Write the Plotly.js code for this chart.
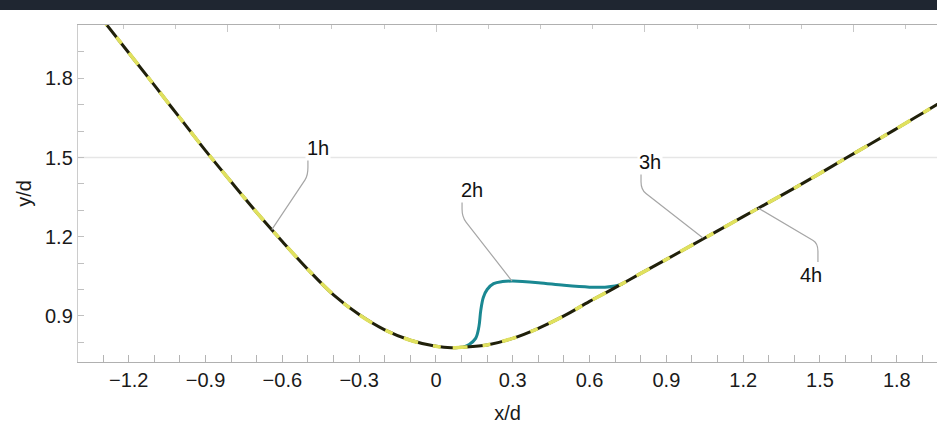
<!DOCTYPE html>
<html>
<head>
<meta charset="utf-8">
<script src="https://cdn.plot.ly/plotly-3.0.1.min.js"></script>
<style>
  html, body { margin: 0; padding: 0; background: #ffffff; }
  #bar { width: 937px; height: 10px; background: #1f2631; }
  #chart { width: 937px; height: 414px; }
</style>
</head>
<body>
<div id="bar"></div>
<div id="chart"></div>
<script>
// Main profile (curves 1h, 3h, 4h coincide)
const profileX = [-1.32, -1.3, -1.2, -1.1, -1.0, -0.9, -0.8, -0.7, -0.6, -0.5, -0.4, -0.3, -0.2, -0.1, 0.0, 0.06, 0.1, 0.2, 0.3, 0.4, 0.5, 0.6, 0.7, 0.8, 0.9, 1.0, 1.1, 1.2, 1.3, 1.4, 1.5, 1.6, 1.7, 1.8, 1.9, 2.0];
const profileY = [2.045, 2.02, 1.897, 1.774, 1.65, 1.526, 1.408, 1.292, 1.182, 1.076, 0.98, 0.905, 0.847, 0.808, 0.785, 0.779, 0.781, 0.79, 0.815, 0.853, 0.9, 0.955, 1.007, 1.061, 1.114, 1.168, 1.222, 1.276, 1.33, 1.384, 1.44, 1.497, 1.553, 1.61, 1.668, 1.726];

// Curve 2h (departs from the profile)
const curve2X = [0.105, 0.13, 0.155, 0.168, 0.175, 0.185, 0.2, 0.225, 0.26, 0.3, 0.4, 0.5, 0.6, 0.66, 0.7, 0.73];
const curve2Y = [0.781, 0.792, 0.815, 0.86, 0.92, 0.97, 1.0, 1.022, 1.03, 1.032, 1.026, 1.016, 1.009, 1.009, 1.013, 1.022];

// Labels and their leader points
const labelText = ["1h", "2h", "3h", "4h"];
const labelX = [-0.461, 0.141, 0.836, 1.465];
const labelY = [1.536, 1.376, 1.483, 1.055];
const leaderStartX = [-0.5, 0.102, 0.801, 1.492];
const leaderStartY = [1.494, 1.339, 1.441, 1.104];
const leaderBendY = [1.462, 1.305, 1.408, 1.145];
const leaderEndX = [-0.641, 0.297, 1.043, 1.258];
const leaderEndY = [1.227, 1.032, 1.195, 1.309];

const FONT = '"Liberation Sans", Arial, sans-serif';

const traces = [
  { x: curve2X, y: curve2Y, type: 'scatter', mode: 'lines', name: '2h',
    line: { color: '#1a8892', width: 3, shape: 'spline', smoothing: 1 }, hoverinfo: 'skip' },
  { x: profileX, y: profileY, type: 'scatter', mode: 'lines', name: '4h',
    line: { color: '#20200a', width: 3, shape: 'spline', smoothing: 1 }, hoverinfo: 'skip' },
  { x: profileX, y: profileY, type: 'scatter', mode: 'lines', name: '3h',
    line: { color: '#e0e15e', width: 3.6, shape: 'spline', smoothing: 1, dash: '15px,35px' }, hoverinfo: 'skip' },
  { x: profileX, y: profileY, type: 'scatter', mode: 'lines', name: '1h',
    line: { color: '#e0e15e', width: 3.6, shape: 'spline', smoothing: 1, dash: '0px,30px,8px,12px' }, hoverinfo: 'skip' },
  { x: [0], y: [0], xaxis: 'x2', yaxis: 'y', type: 'scatter', mode: 'none', showlegend: false, hoverinfo: 'skip' }
];

const shapes = [
  { type: 'line', xref: 'paper', yref: 'y', x0: 0, x1: 1, y0: 1.5, y1: 1.5,
    line: { color: '#e6e6e6', width: 1.5 }, layer: 'below' }
];
const annotations = [];
for (let i = 0; i < labelText.length; i++) {
  const sx = leaderStartX[i], sy = leaderStartY[i], by = leaderBendY[i];
  const ex = leaderEndX[i], ey = leaderEndY[i];
  const cy = by + (by > sy ? 0.03 : -0.03);
  const t = 0.08;
  const qx = sx + (ex - sx) * t, qy = cy + (ey - cy) * t;
  const path = `M ${sx},${sy} L ${sx},${by} Q ${sx},${cy} ${qx},${qy} L ${ex},${ey}`;
  shapes.push({ type: 'path', xref: 'x', yref: 'y', path: path,
    line: { color: '#a6a6a6', width: 1.2 }, layer: 'above' });
  annotations.push({ x: labelX[i], y: labelY[i], xref: 'x', yref: 'y', text: labelText[i],
    showarrow: false, bgcolor: '#ffffff', borderpad: 1,
    font: { family: FONT, size: 20, color: '#111111' } });
}

const layout = {
  width: 937, height: 414,
  margin: { l: 78, r: 0, t: 15, b: 62 },
  paper_bgcolor: '#ffffff', plot_bgcolor: '#ffffff',
  showlegend: false,
  font: { family: FONT, size: 20, color: '#1a1a1a' },
  xaxis: {
    range: [-1.398, 1.957], tick0: 0, dtick: 0.3,
    ticks: 'inside', ticklen: 7, tickcolor: '#b4b4b4', tickwidth: 1,
    minor: { dtick: 0.1, tick0: 0, ticks: 'inside', ticklen: 7, tickcolor: '#b4b4b4', showgrid: false },
    showgrid: false, zeroline: false, showline: true, linecolor: '#b0b0b0', linewidth: 1.2,
    tickfont: { family: FONT, size: 20, color: '#1a1a1a' },
    title: { text: 'x/d', font: { family: FONT, size: 20, color: '#1a1a1a' }, standoff: 19 }
  },
  xaxis2: {
    overlaying: 'x', side: 'top', range: [-0.862, 15.594], tick0: 2, dtick: 4,
    ticks: 'inside', ticklen: 7, tickcolor: '#c8c8c8',
    minor: { dtick: 1, tick0: 0, ticks: 'inside', ticklen: 4, tickcolor: '#c8c8c8', showgrid: false },
    showticklabels: false, showgrid: false, zeroline: false, showline: true, linecolor: '#b0b0b0', linewidth: 1.2
  },
  yaxis: {
    range: [0.7254, 2.002], tick0: 0, dtick: 0.3,
    ticks: 'inside', ticklen: 6, tickcolor: '#c0c0c0', tickwidth: 1,
    minor: { dtick: 0.1, tick0: 0, ticks: 'inside', ticklen: 6, tickcolor: '#c0c0c0', showgrid: false },
    showgrid: false, zeroline: false, showline: true, linecolor: '#cccccc', linewidth: 1.2,
    tickfont: { family: FONT, size: 20, color: '#1a1a1a' },
    title: { text: 'y/d', font: { family: FONT, size: 20, color: '#1a1a1a' }, standoff: 8 }
  },
  shapes: shapes,
  annotations: annotations
};

Plotly.newPlot('chart', traces, layout, { staticPlot: true, displayModeBar: false });
</script>
</body>
</html>
